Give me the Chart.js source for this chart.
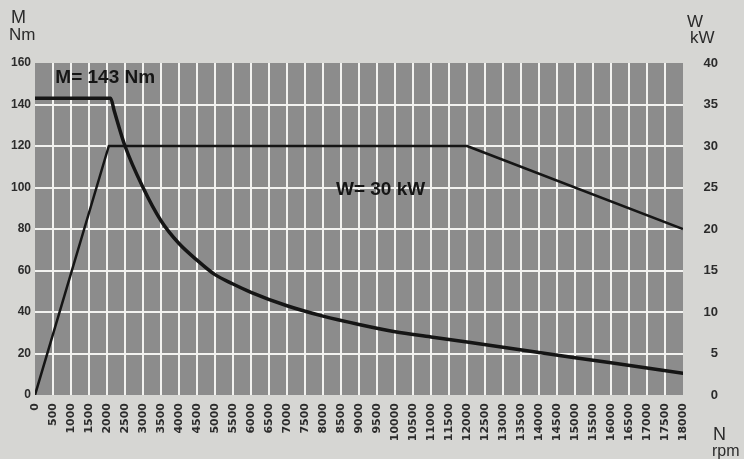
<!DOCTYPE html>
<html>
<head>
<meta charset="utf-8">
<script src="https://cdn.jsdelivr.net/npm/chart.js@4/dist/chart.umd.min.js"></script>
<style>
  html, body { margin: 0; padding: 0; background: #d6d6d3; }
  #wrap { width: 744px; height: 459px; }
</style>
</head>
<body>
<div id="wrap"><canvas id="c" width="744" height="459"></canvas></div>
<script>
// Speed axis (rpm) and its tick step
const rpmMin = 0;
const rpmMax = 18000;
const rpmStep = 500;

// Torque curve M (Nm) against speed N (rpm)
const torqueRpm = [0, 2100, 2200, 2500, 3000, 3500, 4000, 4500, 5000, 5500, 6000, 7000, 8000, 9000, 10000, 11000, 12000, 13000, 14000, 15000, 16000, 17000, 18000];
const torqueNm  = [143, 143, 137, 120, 100, 84, 73, 65, 58, 53.5, 49.5, 43, 38, 34, 30.5, 28, 25.5, 23, 20.5, 18, 15.5, 13, 10.5];

// Power curve W (kW) against speed N (rpm)
const powerRpm = [0, 2050, 12000, 18000];
const powerKw  = [0, 30, 30, 20];

// Axis ranges
const torqueMax = 160, torqueStep = 20;
const powerMax = 40, powerStep = 5;

// Curve labels, anchored in data units
const torqueLabel = { text: 'M= 143 Nm', rpm: 1950, value: 153 };
const powerLabel  = { text: 'W= 30 kW', rpm: 9600, value: 24.7 };

const toPoints = (xs, ys) => xs.map((x, i) => ({ x, y: ys[i] }));

const PAGE_BG = '#d6d6d3';
const PLOT_BG = '#8c8c8c';
const GRID = '#f2f2f0';
const INK = '#151515';
const TEXT = '#2b2b2b';

const backdrop = {
  id: 'backdrop',
  beforeDraw(chart) {
    const { ctx, chartArea: a } = chart;
    ctx.save();
    ctx.fillStyle = PAGE_BG;
    ctx.fillRect(0, 0, chart.width, chart.height);
    ctx.fillStyle = PLOT_BG;
    ctx.fillRect(a.left, a.top, a.right - a.left, a.bottom - a.top);
    ctx.restore();
  }
};

const labels = {
  id: 'labels',
  afterDatasetsDraw(chart) {
    const { ctx, scales } = chart;
    ctx.save();
    ctx.fillStyle = INK;
    ctx.textAlign = 'center';
    ctx.textBaseline = 'middle';
    ctx.font = 'bold 19px "Liberation Sans", Arial, sans-serif';
    ctx.fillText(torqueLabel.text,
      scales.x.getPixelForValue(torqueLabel.rpm),
      scales.y.getPixelForValue(torqueLabel.value));
    ctx.fillText(powerLabel.text,
      scales.x.getPixelForValue(powerLabel.rpm),
      scales.y1.getPixelForValue(powerLabel.value));

    // axis names and units
    ctx.fillStyle = TEXT;
    ctx.textAlign = 'left';
    ctx.textBaseline = 'alphabetic';
    ctx.font = '18px "Liberation Sans", Arial, sans-serif';
    ctx.fillText('M', 11, 23);
    ctx.font = '17px "Liberation Sans", Arial, sans-serif';
    ctx.fillText('Nm', 9, 40);
    ctx.fillText('W', 687, 27);
    ctx.fillText('kW', 690, 43);
    ctx.font = '18px "Liberation Sans", Arial, sans-serif';
    ctx.fillText('N', 713, 440);
    ctx.font = '16px "Liberation Sans", Arial, sans-serif';
    ctx.fillText('rpm', 712, 456);
    ctx.restore();
  }
};

const innerGrid = (ctx) => {
  const n = ctx.scale.ticks.length;
  return (ctx.index === 0 || ctx.index === n - 1) ? 'rgba(0,0,0,0)' : GRID;
};

new Chart(document.getElementById('c'), {
  type: 'line',
  data: {
    datasets: [
      {
        label: 'M (Nm)',
        data: toPoints(torqueRpm, torqueNm),
        yAxisID: 'y',
        borderColor: INK,
        borderWidth: 3.5,
        pointRadius: 0,
        cubicInterpolationMode: 'monotone',
        borderJoinStyle: 'round',
        borderCapStyle: 'round'
      },
      {
        label: 'W (kW)',
        data: toPoints(powerRpm, powerKw),
        yAxisID: 'y1',
        borderColor: INK,
        borderWidth: 2.5,
        pointRadius: 0,
        tension: 0,
        borderJoinStyle: 'round'
      }
    ]
  },
  options: {
    responsive: false,
    animation: false,
    events: [],
    layout: { padding: { top: 63, left: 0, right: 26, bottom: 0 } },
    plugins: { legend: { display: false }, tooltip: { enabled: false } },
    scales: {
      x: {
        type: 'linear',
        min: rpmMin,
        max: rpmMax,
        afterFit(s) { s.height = 64; },
        border: { display: false },
        grid: { color: innerGrid, lineWidth: 2, drawTicks: false },
        ticks: {
          stepSize: rpmStep,
          autoSkip: false,
          minRotation: 90,
          maxRotation: 90,
          padding: 8,
          color: TEXT,
          callback: (v) => String(v),
          font: { family: '"DejaVu Sans", sans-serif', size: 11, weight: 'bold' }
        }
      },
      y: {
        position: 'left',
        min: 0,
        max: torqueMax,
        afterFit(s) { s.width = 35; },
        border: { display: false },
        grid: { color: innerGrid, lineWidth: 2, drawTicks: false },
        ticks: {
          stepSize: torqueStep,
          padding: 4,
          color: TEXT,
          font: { family: '"Liberation Sans Narrow", "Liberation Sans", sans-serif', size: 12, weight: 'bold' }
        }
      },
      y1: {
        position: 'right',
        min: 0,
        max: powerMax,
        afterFit(s) { s.width = 35; },
        border: { display: false },
        grid: { display: false, drawTicks: false },
        ticks: {
          stepSize: powerStep,
          padding: 18,
          crossAlign: 'far',
          color: TEXT,
          font: { family: '"Liberation Sans Narrow", "Liberation Sans", sans-serif', size: 13, weight: 'bold' }
        }
      }
    }
  },
  plugins: [backdrop, labels]
});
</script>
</body>
</html>
